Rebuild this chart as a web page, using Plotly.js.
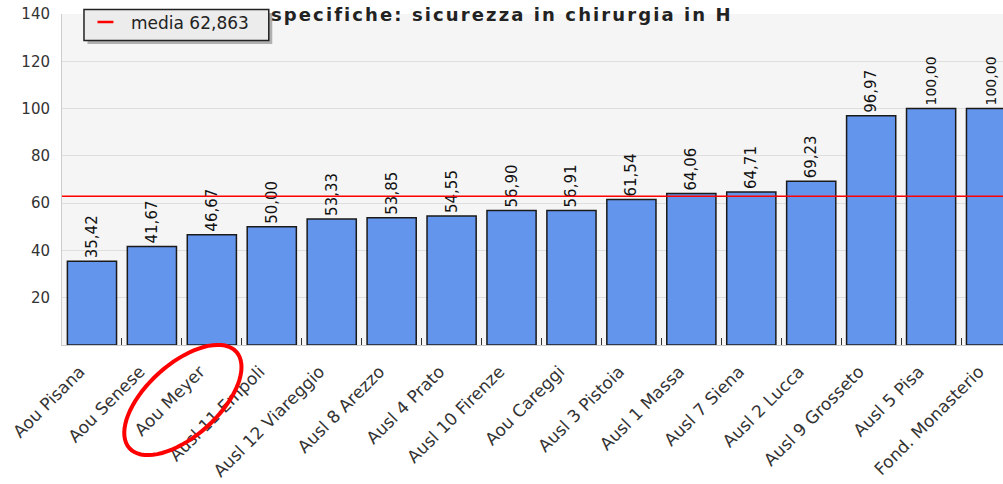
<!DOCTYPE html>
<html>
<head>
<meta charset="utf-8">
<script src="https://cdn.plot.ly/plotly-3.0.1.min.js"></script>
<style>
  html, body { margin: 0; padding: 0; background: #ffffff; overflow: hidden; }
  #chart { width: 1040px; height: 484px; }
  #chart .gtitle { letter-spacing: 2.1px; }
</style>
</head>
<body>
<div id="chart"></div>
<script>
// ---- data ----
const categories = [
  "Aou Pisana", "Aou Senese", "Aou Meyer", "Ausl 11 Empoli", "Ausl 12 Viareggio",
  "Ausl 8 Arezzo", "Ausl 4 Prato", "Ausl 10 Firenze", "Aou Careggi", "Ausl 3 Pistoia",
  "Ausl 1 Massa", "Ausl 7 Siena", "Ausl 2 Lucca", "Ausl 9 Grosseto", "Ausl 5 Pisa",
  "Fond. Monasterio"
];
const values = [35.42, 41.67, 46.67, 50.00, 53.33, 53.85, 54.55, 56.90, 56.91, 61.54,
                64.06, 64.71, 69.23, 96.97, 100.00, 100.00];
const yTicks = [20, 40, 60, 80, 100, 120, 140];
const titleText = "specifiche: sicurezza in chirurgia in H";

const mean = values.reduce((a, b) => a + b, 0) / values.length;
const meanLabel = "media " + mean.toFixed(3).replace(".", ",");

// ---- geometry helpers (pixel -> paper) ----
const W = 1040, H = 484;
const M = { l: 61.5, r: 18.5, t: 14, b: 139 };
const PW = W - M.l - M.r, PH = H - M.t - M.b;
const px = x => (x - M.l) / PW;
const py = y => (H - M.b - y) / PH;

// rotated ellipse around the highlighted label
function ellipsePath(cx, cy, a, b, angDeg) {
  const t = angDeg * Math.PI / 180;
  let d = "";
  const n = 72;
  for (let i = 0; i <= n; i++) {
    const u = 2 * Math.PI * i / n;
    const ex = a * Math.cos(u), ey = b * Math.sin(u);
    const X = cx + ex * Math.cos(t) - ey * Math.sin(t);
    const Y = cy + ex * Math.sin(t) + ey * Math.cos(t);
    d += (i === 0 ? "M" : "L") + px(X).toFixed(5) + "," + py(Y).toFixed(5);
  }
  return d + "Z";
}

const bars = {
  type: "bar",
  x: categories,
  y: values,
  marker: { color: "#6495ED", line: { color: "#1a1a1a", width: 1.5 } },
  texttemplate: "%{y:.2f}",
  textposition: "outside",
  textangle: -90,
  textfont: { family: "DejaVu Sans", size: 15, color: "#111111" },
  cliponaxis: false,
  showlegend: false,
  hoverinfo: "x+y"
};

const meanLine = {
  type: "scatter",
  mode: "lines",
  x: [0, 1],
  y: [mean, mean],
  xaxis: "x2",
  name: meanLabel,
  line: { color: "#ff0000", width: 1.5 },
  showlegend: false
};

const layout = {
  width: W, height: H,
  margin: M,
  separators: ",.",
  paper_bgcolor: "#ffffff",
  plot_bgcolor: "#f5f5f5",
  font: { family: "DejaVu Sans", size: 14, color: "#333333" },
  title: {
    text: titleText,
    font: { family: "DejaVu Sans", size: 18, color: "#222222", weight: "bold" },
    xref: "container", yref: "container",
    x: 271 / W, xanchor: "left",
    y: 1 - 15 / H, yanchor: "middle"
  },
  bargap: 0.18,
  showlegend: false,
  xaxis: {
    type: "category",
    tickangle: -45,
    tickfont: { family: "DejaVu Sans", size: 17, color: "#333333" },
    ticklabelshift: -12,
    ticklabelstandoff: 9,
    showline: true, linecolor: "#cccccc", linewidth: 1,
    ticks: "inside", tickson: "boundaries", ticklen: 7, tickcolor: "#333333", tickwidth: 1,
    showgrid: false,
    fixedrange: true
  },
  xaxis2: {
    overlaying: "x", range: [0, 1], visible: false, fixedrange: true
  },
  yaxis: {
    range: [0, 140],
    tickvals: yTicks,
    tickfont: { family: "DejaVu Sans", size: 15, color: "#333333" },
    showline: true, linecolor: "#cccccc", linewidth: 1,
    gridcolor: "#dedede", gridwidth: 1,
    zeroline: false,
    ticks: "", ticklabelstandoff: 8,
    fixedrange: true
  },
  shapes: [
    // legend shadow
    {
      type: "rect", xref: "paper", yref: "paper",
      x0: px(87), x1: px(272), y0: py(44), y1: py(13),
      fillcolor: "#b0b0b0", line: { width: 0 }, layer: "above"
    },
    // legend box
    {
      type: "rect", xref: "paper", yref: "paper",
      x0: px(83.5), x1: px(268.5), y0: py(40.5), y1: py(9.5),
      fillcolor: "#ececec", line: { color: "#222222", width: 1.5 }, layer: "above"
    },
    // legend swatch
    {
      type: "line", xref: "paper", yref: "paper",
      x0: px(97), x1: px(113), y0: py(22), y1: py(22),
      line: { color: "#ff0000", width: 2.5 }, layer: "above"
    },
    // highlight ellipse
    {
      type: "path", xref: "paper", yref: "paper",
      path: ellipsePath(182.5, 400, 72, 36, -42),
      line: { color: "#ff0000", width: 4 }, layer: "above"
    }
  ],
  annotations: [
    {
      text: meanLabel, xref: "paper", yref: "paper",
      x: px(129), y: py(23), xanchor: "left", yanchor: "middle",
      showarrow: false,
      font: { family: "DejaVu Sans", size: 17, color: "#222222" }
    }
  ]
};

Plotly.newPlot("chart", [bars, meanLine], layout, { displayModeBar: false, staticPlot: true });
</script>
</body>
</html>
